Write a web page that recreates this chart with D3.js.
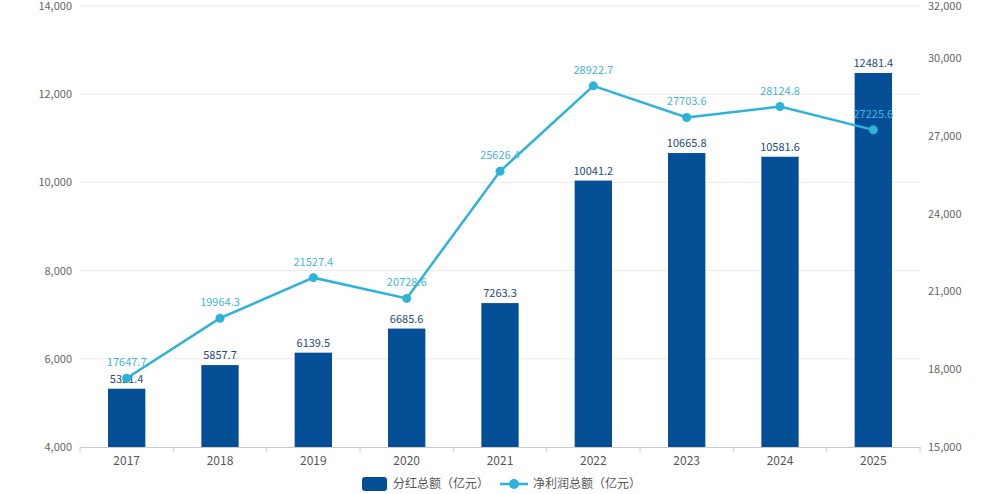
<!DOCTYPE html>
<html>
<head>
<meta charset="utf-8">
<script src="https://cdn.jsdelivr.net/npm/d3@7"></script>
<style>
  body { margin: 0; background: #fff; }
  svg text { font-family: "Noto Sans CJK SC", "Noto Sans", sans-serif; }
</style>
</head>
<body>
<svg id="chart" width="1000" height="494"></svg>
<script>
const years = ["2017", "2018", "2019", "2020", "2021", "2022", "2023", "2024", "2025"];
const dividends = [5321.4, 5857.7, 6139.5, 6685.6, 7263.3, 10041.2, 10665.8, 10581.6, 12481.4];
const netProfit = [17647.7, 19964.3, 21527.4, 20728.6, 25626.4, 28922.7, 27703.6, 28124.8, 27225.6];
const leftTicks = [4000, 6000, 8000, 10000, 12000, 14000];
const rightTicks = [15000, 18000, 21000, 24000, 27000, 30000, 32000];
const legendNames = ["分红总额（亿元）", "净利润总额（亿元）"];

const barColor = "#054f97";
const lineColor = "#2db3da";

const plotLeft = 80, plotRight = 920, plotTop = 6, plotBottom = 447;
const svg = d3.select("#chart");

const x = d3.scaleBand().domain(years).range([plotLeft, plotRight]).paddingInner(0.6).paddingOuter(0.3);
const band = d3.scaleBand().domain(years).range([plotLeft, plotRight]);
const yL = d3.scaleLinear().domain([4000, 14000]).range([plotBottom, plotTop]);
const yR = d3.scaleLinear().domain([15000, 32000]).range([plotBottom, plotTop]);

// grid lines
svg.append("g").selectAll("line")
  .data(leftTicks.slice(1))
  .join("line")
  .attr("x1", plotLeft).attr("x2", plotRight)
  .attr("y1", d => yL(d)).attr("y2", d => yL(d))
  .attr("stroke", "#ebebeb").attr("stroke-width", 1);

// left axis
const gL = svg.append("g")
  .attr("transform", `translate(${plotLeft},0)`)
  .call(d3.axisLeft(yL).tickValues(leftTicks).tickFormat(d3.format(",")).tickSize(0).tickPadding(8));
gL.select(".domain").remove();
gL.selectAll("text").attr("fill", "#666").style("font-size", "11px");

// right axis
const gR = svg.append("g")
  .attr("transform", `translate(${plotRight},0)`)
  .call(d3.axisRight(yR).tickValues(rightTicks).tickFormat(d3.format(",")).tickSize(0).tickPadding(8));
gR.select(".domain").remove();
gR.selectAll("text").attr("fill", "#666").style("font-size", "11px");

// x axis
const gX = svg.append("g")
  .attr("transform", `translate(0,${plotBottom})`)
  .call(d3.axisBottom(x).tickSize(0).tickPadding(9));
gX.select(".domain").attr("stroke", "#ccc");
gX.selectAll("text").attr("fill", "#555").style("font-size", "12px");
gX.selectAll(".bound")
  .data(years.concat(["end"]))
  .join("line")
  .attr("class", "bound")
  .attr("x1", (d, i) => plotLeft + i * band.bandwidth())
  .attr("x2", (d, i) => plotLeft + i * band.bandwidth())
  .attr("y1", 0).attr("y2", 5)
  .attr("stroke", "#ccc");

// bars
svg.append("g").selectAll("rect")
  .data(years)
  .join("rect")
  .attr("x", d => x(d))
  .attr("width", x.bandwidth())
  .attr("y", (d, i) => yL(dividends[i]))
  .attr("height", (d, i) => plotBottom - yL(dividends[i]))
  .attr("fill", barColor);

// bar labels
svg.append("g").selectAll("text")
  .data(years)
  .join("text")
  .attr("x", d => x(d) + x.bandwidth() / 2)
  .attr("y", (d, i) => yL(dividends[i]) - 6)
  .attr("text-anchor", "middle")
  .attr("fill", "#1d4b7c")
  .style("font-size", "11px")
  .text((d, i) => dividends[i]);

// line
const cx = d => x(d) + x.bandwidth() / 2;
svg.append("path")
  .datum(years)
  .attr("fill", "none")
  .attr("stroke", lineColor)
  .attr("stroke-width", 2.5)
  .attr("d", d3.line().x(d => cx(d)).y((d, i) => yR(netProfit[i])));

svg.append("g").selectAll("circle")
  .data(years)
  .join("circle")
  .attr("cx", d => cx(d))
  .attr("cy", (d, i) => yR(netProfit[i]))
  .attr("r", 4.5)
  .attr("fill", lineColor);

svg.append("g").selectAll("text")
  .data(years)
  .join("text")
  .attr("x", d => cx(d))
  .attr("y", (d, i) => yR(netProfit[i]) - 12)
  .attr("text-anchor", "middle")
  .attr("fill", "#45b6dd")
  .style("font-size", "11px")
  .text((d, i) => netProfit[i]);

// legend
const lg = svg.append("g").attr("transform", "translate(362,484)");
lg.append("rect")
  .attr("x", 0).attr("y", -7).attr("width", 25).attr("height", 14).attr("rx", 3)
  .attr("fill", barColor);
lg.append("text")
  .attr("x", 31).attr("y", 0).attr("dy", "0.35em")
  .attr("fill", "#555").style("font-size", "12px")
  .text(legendNames[0]);
lg.append("line")
  .attr("x1", 138).attr("x2", 166).attr("y1", 0).attr("y2", 0)
  .attr("stroke", lineColor).attr("stroke-width", 2.5);
lg.append("circle")
  .attr("cx", 152).attr("cy", 0).attr("r", 5).attr("fill", lineColor);
lg.append("text")
  .attr("x", 171).attr("y", 0).attr("dy", "0.35em")
  .attr("fill", "#555").style("font-size", "12px")
  .text(legendNames[1]);
</script>
</body>
</html>
